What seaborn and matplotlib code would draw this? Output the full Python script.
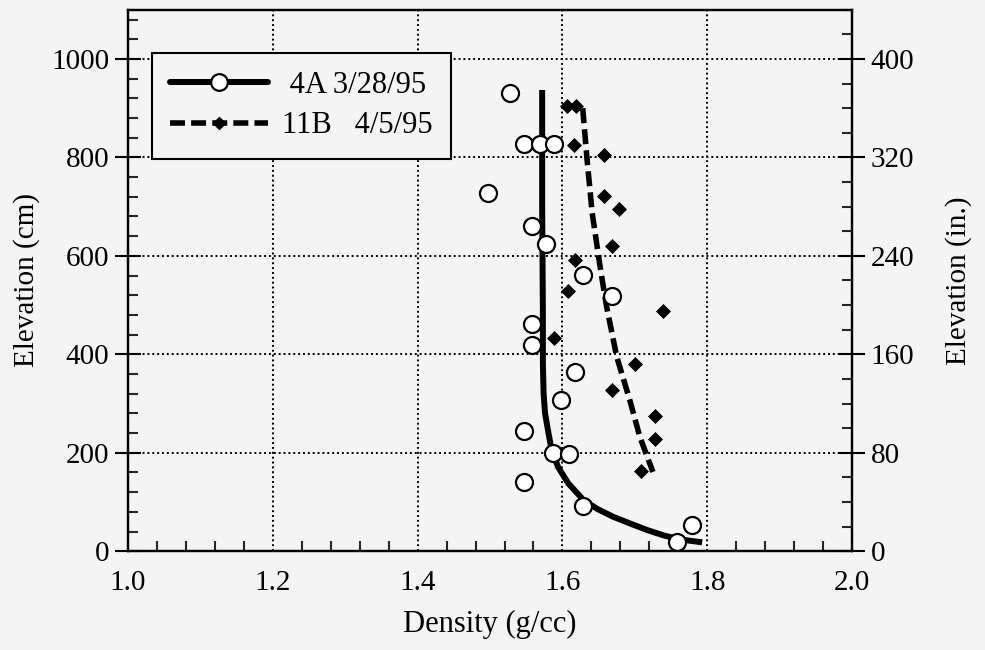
import numpy as np
import pandas as pd
import matplotlib
matplotlib.use("Agg")
import matplotlib.pyplot as plt
from matplotlib.lines import Line2D
from matplotlib.ticker import MultipleLocator
import seaborn as sns

# ---- data ----
a4_density = [1.528, 1.547, 1.569, 1.588, 1.497, 1.558, 1.577, 1.628, 1.668, 1.558,
              1.558, 1.617, 1.598, 1.547, 1.587, 1.609, 1.547, 1.628, 1.779, 1.758]
a4_elev = [931, 827, 827, 827, 727, 660, 625, 562, 519, 462,
           418, 364, 307, 244, 199, 198, 140, 92, 53, 18]

b11_density = [1.606, 1.619, 1.616, 1.657, 1.657, 1.678, 1.669, 1.617, 1.608, 1.739,
               1.588, 1.700, 1.669, 1.728, 1.728, 1.709]
b11_elev = [905, 905, 825, 804, 721, 696, 621, 591, 528, 487,
            434, 381, 328, 275, 228, 163]

fit4a_density = [1.572, 1.572, 1.573, 1.573, 1.574, 1.576, 1.580, 1.585, 1.594, 1.608,
                 1.629, 1.648, 1.670, 1.694, 1.717, 1.740, 1.762, 1.793]
fit4a_elev = [937, 700, 480, 380, 320, 280, 246, 206, 171, 138,
              104, 86, 70, 56, 43, 32, 24, 18]

fit11b_density = [1.628, 1.634, 1.641, 1.652, 1.661, 1.675, 1.693, 1.707, 1.725]
fit11b_elev = [900, 796, 688, 578, 497, 395, 307, 232, 161]

labels = [" 4A 3/28/95", "11B   4/5/95"]
x_ticks = [1.0, 1.2, 1.4, 1.6, 1.8, 2.0]
y_ticks = [0, 200, 400, 600, 800, 1000]
y2_ticks = [0, 80, 160, 240, 320, 400]

sns.set_style("white")
plt.rcParams["font.family"] = ["Liberation Serif", "DejaVu Serif"]
plt.rcParams["text.color"] = "black"
plt.rcParams["axes.labelcolor"] = "black"
bg = "#f4f4f4"
FS = 21
DASH = [2.7, 1.1]

fig = plt.figure(figsize=(9.85, 6.5), dpi=100, facecolor=bg)
ax = fig.add_axes([0.130, 0.152, 0.735, 0.833])
ax.set_facecolor(bg)

df_a = pd.DataFrame({"d": a4_density, "e": a4_elev})
df_b = pd.DataFrame({"d": b11_density, "e": b11_elev})
df_fa = pd.DataFrame({"d": fit4a_density, "e": fit4a_elev})
df_fb = pd.DataFrame({"d": fit11b_density, "e": fit11b_elev})

sns.lineplot(data=df_fa, x="d", y="e", sort=False, estimator=None, ax=ax,
             color="black", lw=4.3, zorder=3)
ax.lines[-1].set_solid_capstyle("butt")
sns.lineplot(data=df_fb, x="d", y="e", sort=False, estimator=None, ax=ax,
             color="black", lw=4.0, zorder=3)
ax.lines[-1].set_dashes(DASH)
sns.scatterplot(data=df_a, x="d", y="e", ax=ax, marker="o", s=150,
                facecolor="white", edgecolor="black", linewidth=1.6, zorder=4)
sns.scatterplot(data=df_b, x="d", y="e", ax=ax, marker="D", s=50,
                color="black", edgecolor="black", zorder=4)

ax.set_xlim(1.0, 2.0)
ax.set_ylim(0, 1100)
ax.set_xticks(x_ticks)
ax.set_xticklabels([f"{v:.1f}" for v in x_ticks])
ax.set_yticks(y_ticks)
ax.xaxis.set_minor_locator(MultipleLocator(0.04))
ax.yaxis.set_minor_locator(MultipleLocator(40))
ax.grid(True, which="major", color="black", linestyle=(0, (1, 1.5)), lw=1.4)
ax.tick_params(axis="both", which="major", direction="inout", length=19, width=1.5,
               labelsize=FS, colors="black", top=False, right=False, pad=4)
ax.tick_params(axis="both", which="minor", direction="in", length=7, width=1.5,
               top=False, right=False, left=True, bottom=True)
for s in ax.spines.values():
    s.set_color("black")
    s.set_linewidth(1.6)
ax.set_xlabel("Density (g/cc)", fontsize=22, labelpad=10)
ax.set_ylabel("Elevation (cm)", fontsize=FS, labelpad=8)

ax2 = ax.twinx()
ax2.set_ylim(0, 440)
ax2.set_yticks(y2_ticks)
ax2.yaxis.set_minor_locator(MultipleLocator(20))
ax2.tick_params(axis="y", which="major", direction="inout", length=19, width=1.5,
                labelsize=FS, colors="black", pad=4)
ax2.tick_params(axis="y", which="minor", direction="in", length=7, width=1.5)
ax2.set_ylabel("Elevation (in.)", fontsize=FS, labelpad=22)
for s in ax2.spines.values():
    s.set_color("black")
    s.set_linewidth(1.6)

handles = [
    Line2D([], [], color="black", lw=4.3, marker="o", markersize=12,
           markerfacecolor="white", markeredgecolor="black", markeredgewidth=1.6),
    Line2D([], [], color="black", lw=4.0, dashes=DASH, marker="D", markersize=6,
           markerfacecolor="black", markeredgecolor="black"),
]
leg = ax.legend(handles, labels, loc="upper left", bbox_to_anchor=(0.033, 0.921),
                fontsize=22, handlelength=3.2, handletextpad=0.45, frameon=True,
                fancybox=False, edgecolor="black", facecolor=bg, framealpha=1,
                borderpad=0.6, labelspacing=0.38, borderaxespad=0)
leg.get_frame().set_linewidth(1.5)

fig.savefig("out.png", dpi=100, facecolor=bg)
